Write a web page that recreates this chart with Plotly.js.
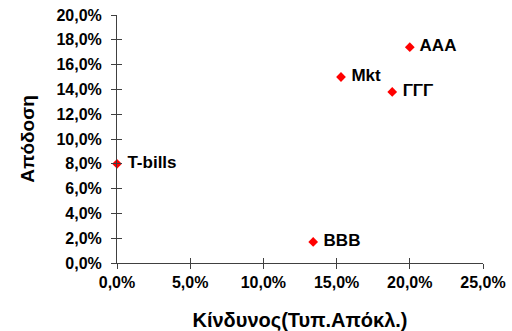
<!DOCTYPE html>
<html>
<head>
<meta charset="utf-8">
<script src="https://cdn.plot.ly/plotly-3.0.1.min.js"></script>
<style>
  html, body { margin: 0; padding: 0; background: #fff; }
  #chart { width: 512px; height: 331px; }
</style>
</head>
<body>
<div id="chart"></div>
<script>
// Risk (std. deviation) vs. return for each asset
const assets  = ['AAA', 'Mkt', 'ΓΓΓ', 'T-bills', 'BBB'];
const risk    = [0.200, 0.153, 0.188, 0.000, 0.134];
const returns = [0.174, 0.150, 0.138, 0.080, 0.017];

const xTicks = [0, 0.05, 0.10, 0.15, 0.20, 0.25];
const yTicks = [0, 0.02, 0.04, 0.06, 0.08, 0.10, 0.12, 0.14, 0.16, 0.18, 0.20];

const font = 'Liberation Sans, Arial, sans-serif';
const axisColor = '#404040';

const trace = {
  type: 'scatter',
  mode: 'markers+text',
  x: risk,
  y: returns,
  text: assets,
  textposition: 'middle right',
  texttemplate: '<b> %{text}</b>',
  textfont: { family: font, size: 17, color: '#000' },
  marker: { symbol: 'diamond', size: 7.5, color: '#ff0000' },
  cliponaxis: false,
  hoverinfo: 'skip'
};

const baseX = {
  range: [0, 0.25],
  tickvals: xTicks,
  tickformat: '.1%',
  showgrid: false,
  zeroline: false,
  fixedrange: true
};
const baseY = {
  range: [0, 0.20],
  tickvals: yTicks,
  tickformat: '.1%',
  showgrid: false,
  zeroline: false,
  fixedrange: true
};

const tickFont = { family: font, size: 16, color: '#000', weight: 'bold' };

const layout = {
  width: 512,
  height: 331,
  margin: { l: 117, r: 29, t: 15, b: 68 },
  paper_bgcolor: '#fff',
  plot_bgcolor: '#fff',
  separators: ',.',
  showlegend: false,
  font: { family: font, color: '#000' },
  xaxis: Object.assign({}, baseX, {
    showline: true, linecolor: axisColor, linewidth: 1,
    ticks: 'outside', ticklen: 5, tickcolor: axisColor,
    tickfont: tickFont,
    title: { text: 'Κίνδυνος(Τυπ.Απόκλ.)', font: { family: font, size: 20, color: '#000', weight: 'bold' }, standoff: 23 }
  }),
  yaxis: Object.assign({}, baseY, {
    showline: true, linecolor: axisColor, linewidth: 1,
    ticks: 'outside', ticklen: 5, tickcolor: axisColor,
    ticklabelstandoff: 6,
    tickfont: tickFont,
    title: { text: 'Απόδοση', font: { family: font, size: 19, color: '#000', weight: 'bold' }, standoff: 16 }
  }),
  // inner halves of the cross tick marks
  xaxis2: Object.assign({}, baseX, {
    overlaying: 'x', side: 'bottom', anchor: 'y',
    ticks: 'inside', ticklen: 5, tickcolor: axisColor,
    showticklabels: false, showline: false
  }),
  yaxis2: Object.assign({}, baseY, {
    overlaying: 'y', side: 'left', anchor: 'x',
    ticks: 'inside', ticklen: 5, tickcolor: axisColor,
    showticklabels: false, showline: false
  })
};

const ghost = { type: 'scatter', mode: 'markers', x: [], y: [], xaxis: 'x2', yaxis: 'y2', hoverinfo: 'skip' };

Plotly.newPlot('chart', [ghost, trace], layout, { displayModeBar: false, staticPlot: true });
</script>
</body>
</html>
